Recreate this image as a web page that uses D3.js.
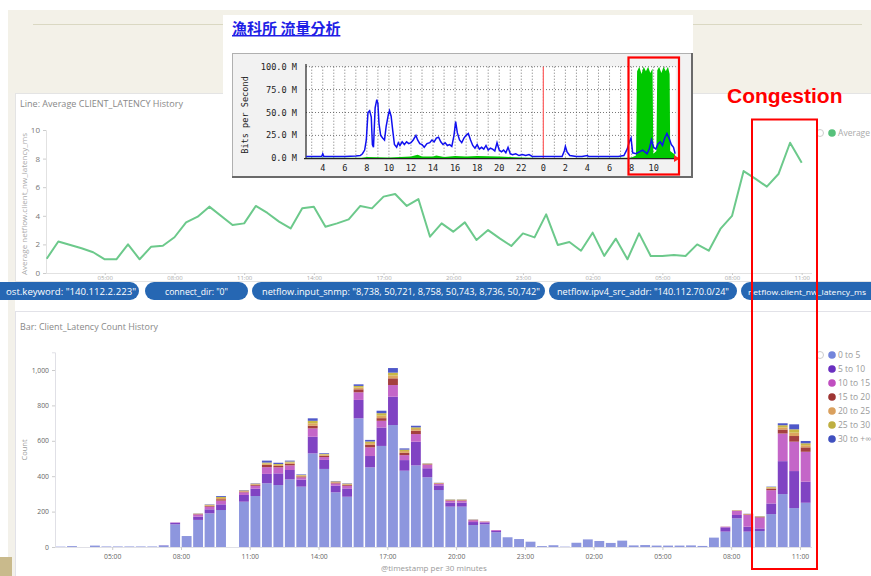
<!DOCTYPE html>
<html><head><meta charset="utf-8">
<script src="https://cdn.jsdelivr.net/npm/d3@7"></script>
<style>body{margin:0;background:#fff;}svg{display:block}</style>
</head><body>
<svg id="c" width="871" height="576"></svg>
<script>
// ---------------- DATA ----------------
const slotLabels = ["02:30","03:00","03:30","04:00","04:30","05:00","05:30","06:00","06:30","07:00","07:30",
 "08:00","08:30","09:00","09:30","10:00","10:30","11:00","11:30","12:00","12:30",
 "13:00","13:30","14:00","14:30","15:00","15:30","16:00","16:30","17:00","17:30",
 "18:00","18:30","19:00","19:30","20:00","20:30","21:00","21:30","22:00","22:30",
 "23:00","23:30","00:00","00:30","01:00","01:30","02:00","02:30","03:00","03:30",
 "04:00","04:30","05:00","05:30","06:00","06:30","07:00","07:30","08:00","08:30",
 "09:00","09:30","10:00","10:30","11:00"];

const latencyAvg = [1.0,2.2,null,1.73,1.45,0.96,0.96,2.0,0.96,1.84,1.91,
 2.5,3.54,3.94,4.64,null,3.36,3.47,4.69,4.2,3.59,
 3.12,4.52,4.64,3.24,3.47,3.75,4.69,4.52,5.34,5.52,
 4.69,5.17,2.54,3.47,2.89,3.54,2.31,3.0,2.42,1.89,
 2.77,2.49,4.1,1.96,2.17,1.56,2.82,1.2,2.4,0.96,
 2.77,1.19,1.19,1.26,1.19,2.0,1.56,3.08,3.99,7.13,
 6.6,6.04,6.92,9.11,7.71];

const bucketNames = ["0 to 5","5 to 10","10 to 15","15 to 20","20 to 25","25 to 30","30 to +∞"];
const cnt0to5 = [2,5,0,8,3,3,3,3,3,9,128, 62,153,190,209,0,256,288,360,350,382, 341,529,441,309,284,727,450,571,689,431, 461,394,322,228,228,124,128,83,55,45, 30,5,10,2,24,43,34,23,36,9, 11,8,8,8,9,6,53,87,162,87, 90,186,299,220,250];
const cnt5to10 = [0,0,0,0,0,0,0,0,0,1,9, 0,19,23,32,0,38,42,53,66,53, 40,94,51,38,47,104,64,104,160,60, 134,51,26,23,23,17,11,8,0,0, 0,0,0,0,0,0,0,0,0,0, 0,0,0,0,0,0,0,24,19,28, 15,60,186,209,119];
const cnt10to15 = [0,0,0,0,0,0,0,0,0,0,2, 0,12,15,21,0,15,16,38,34,26, 12,47,16,12,15,43,49,38,66,28, 43,20,8,10,10,10,4,5,0,0, 0,0,0,0,0,0,0,0,0,0, 0,0,0,0,0,0,0,3,25,66, 62,75,156,166,169];
const cnt15to20 = [0,0,0,0,0,0,0,0,0,0,0, 0,2,4,8,0,4,5,13,8,9, 6,15,8,5,5,17,14,15,38,13, 19,3,3,3,3,2,1,0,0,0, 0,0,0,0,0,0,0,0,0,0, 0,0,0,0,0,0,0,1,0,3, 3,9,23,32,25];
const cnt20to25 = [0,0,0,0,0,0,0,0,0,0,0, 0,2,4,7,0,4,4,7,6,7, 5,14,6,4,4,10,10,14,16,10, 10,2,2,2,2,1,1,0,0,0, 0,0,0,0,0,0,0,0,0,0, 0,0,0,0,0,0,0,0,1,2, 2,5,12,19,12];
const cnt25to30 = [0,0,0,0,0,0,0,0,0,0,0, 0,1,3,6,0,3,3,6,5,6, 3,14,4,3,3,9,9,14,16,8, 9,2,1,2,2,1,0,0,0,0, 0,0,0,0,0,0,0,0,0,0, 0,0,0,0,0,0,0,0,2,1, 2,4,12,19,11];
const cnt30plus = [0,0,0,0,0,0,0,0,0,0,0, 0,1,2,5,0,2,2,11,7,5, 3,14,4,2,2,9,9,14,26,7, 9,1,1,1,1,1,0,0,0,0, 0,0,0,0,0,0,0,0,0,0, 0,0,0,0,0,0,0,0,0,1, 1,2,11,28,13];

const timeTickLabels = ["05:00","08:00","11:00","14:00","17:00","20:00","23:00","02:00","05:00","08:00","11:00"];
const lineYTicks = [0,2,4,6,8,10];
const barYTicks = [0,200,400,600,800,1000];
const lineLegendLabel = "Average";

const filterPills = ['ost.keyword: "140.112.2.223"','connect_dir: "0"',
 'netflow.input_snmp: "8,738, 50,721, 8,758, 50,743, 8,736, 50,742"',
 'netflow.ipv4_src_addr: "140.112.70.0/24"','netflow.client_nw_latency_ms'];

const mrtgTitle = "漁科所 流量分析";
const mrtgOutHours = [2.5,3,3.5,3.9,4.0,4.1,5,6,7,7.4,7.6,7.8,7.95,8.1,8.25,8.4,8.5,8.6,8.75,8.9,9.0,9.1,9.25,9.45,9.6,9.75,9.95,10.05,10.2,10.35,10.5,10.7,10.85,11.0,11.2,11.4,11.6,11.8,12.0,12.2,12.45,12.6,12.8,13.0,13.2,13.45,13.7,13.9,14.1,14.3,14.5,14.7,14.9,15.1,15.3,15.5,15.7,15.9,16.05,16.2,16.4,16.6,16.8,17.0,17.2,17.4,17.6,17.8,18.0,18.2,18.4,18.6,18.8,19.0,19.2,19.4,19.6,19.8,20.0,20.2,20.4,20.6,20.8,21.0,21.2,21.5,21.8,22.1,22.4,22.7,23.0,23.5,24,25,25.7,25.9,26.0,26.15,26.4,27,27.5,28.0,28.1,29,30,30.8,31.3,31.6,31.8,31.95,32.1,32.4,32.7,33.0,33.2,33.4,33.6,33.8,34.0,34.2,34.4,34.6,34.8,35.0,35.2,35.4,35.6,35.8,35.95];
const mrtgOutMbps = [2,2,2,2,5,2,2,2,2.5,3,5,9,20,50,52,45,15,12,55,64,60,38,25,22,20,35,48,52,46,30,15,12,17,14,18,15,18,16,17,20,25,20,16,15,12,16,17,20,18,22,23,18,15,17,14,15,13,25,40,28,20,17,22,25,27,20,14,11,15,10,12,10,14,9,11,10,8,17,9,7,9,6,12,5,4,5,3,4,3,4,2,2,2,2,2,8,13,7,3,2,2,3,2,2,2,2,3,10,18,22,6,5,7,9,7,5,10,20,12,10,16,18,14,22,27,22,15,12,5];
const mrtgInHours = [2.5,7.5,8.0,10,12,12.6,13,14,14.3,15,16,17,18,20,21,22,23,24,31.5,32.0,32.4,32.5,32.7,32.9,33.1,33.3,33.5,33.7,33.9,33.97,34.25,34.33,34.5,34.7,34.9,35.1,35.3,35.45,35.5,35.95];
const mrtgInMbps = [0.5,0.5,1.5,1,2,4,2,2,3,1.5,2.5,2,2.5,2,1.5,1,0.5,0.3,0.5,1,3,95,100,92,100,95,100,93,98,5,8,96,100,93,100,95,100,92,8,4];
const mrtgXTicks = [4,6,8,10,12,14,16,18,20,22,24,26,28,30,32,34];
const mrtgYTicks = [0,25,50,75,100];

// ---------------- HELPERS ----------------
function parseSeq(labels){
  let day = 1, prev = -1;
  return labels.map(s => { const [h,m] = s.split(":").map(Number); const mins = h*60+m;
    if (mins < prev) day++; prev = mins; return new Date(2018,4,day,h,m); });
}
const slotDates = parseSeq(slotLabels);
const tickDates = parseSeq(timeTickLabels);
const KF = "'Open Sans', 'DejaVu Sans', sans-serif";
const svg = d3.select("#c");

// ---------------- BACKGROUND ----------------
svg.append("rect").attr("width",871).attr("height",576).attr("fill","#fff");
svg.append("rect").attr("x",8).attr("y",10).attr("width",863).attr("height",83).attr("fill","#f3f1e8");
svg.append("rect").attr("x",8).attr("y",93).attr("width",7).attr("height",483).attr("fill","#f3f1ea");
svg.append("line").attr("x1",33).attr("x2",862).attr("y1",24.5).attr("y2",24.5).attr("stroke","#dad8c2").attr("stroke-width",1.2);
svg.append("rect").attr("x",15.5).attr("y",93.5).attr("width",860).attr("height",188).attr("fill","#fff").attr("stroke","#e4e4e4");
svg.append("rect").attr("x",15.5).attr("y",311.5).attr("width",860).attr("height",270).attr("fill","#fff").attr("stroke","#e2e2e8");
svg.append("rect").attr("x",0).attr("y",557).attr("width",12).attr("height",19).attr("fill","#c9ba8c");

// ---------------- LINE CHART ----------------
const lg = svg.append("g");
lg.append("text").attr("x",20).attr("y",107).text("Line: Average CLIENT_LATENCY History")
  .attr("font-family",KF).attr("font-size",9.5).attr("fill","#888").attr("textLength",163).attr("lengthAdjust","spacingAndGlyphs");
const xl = d3.scaleTime().domain([slotDates[0], slotDates[slotDates.length-1]]).range([46.7, 801.7]);
const yl = d3.scaleLinear().domain([0,10]).range([273,130]);
const yAxL = lg.append("g").attr("transform","translate(46,0)")
  .call(d3.axisLeft(yl).tickValues(lineYTicks).tickSize(3).tickPadding(3));
yAxL.select(".domain").attr("stroke","#e2e2e2");
yAxL.selectAll(".tick line").attr("stroke","#ccc");
yAxL.selectAll("text").attr("font-family",KF).attr("font-size",8).attr("fill","#777");
lg.append("text").attr("transform","translate(27,204) rotate(-90)").attr("text-anchor","middle")
  .text("Average netflow.client_nw_latency_ms").attr("font-family",KF).attr("font-size",7.5).attr("fill","#aaa")
  .attr("textLength",142).attr("lengthAdjust","spacingAndGlyphs");
lg.append("line").attr("x1",46).attr("x2",812).attr("y1",273.5).attr("y2",273.5).attr("stroke","#e2e2e2");
const xAxL = lg.append("g").attr("transform","translate(0,273)")
  .call(d3.axisBottom(xl).tickValues(tickDates).tickFormat(d3.timeFormat("%H:%M")).tickSize(2));
xAxL.select(".domain").remove();
xAxL.selectAll(".tick line").attr("stroke","#ccc");
xAxL.selectAll("text").attr("y",2.6).attr("dy","0.71em").attr("font-family",KF).attr("font-size",6).attr("fill","#aaa");
const linePts = slotDates.map((d,i)=>({d, v: latencyAvg[i]})).filter(p => p.v !== null);
lg.append("path").datum(linePts)
  .attr("d", d3.line().x(p=>xl(p.d)).y(p=>yl(p.v)))
  .attr("fill","none").attr("stroke","#6cc98b").attr("stroke-width",2).attr("stroke-linejoin","round");
// legend
lg.append("circle").attr("cx",820).attr("cy",133).attr("r",3.5).attr("fill","#fff").attr("stroke","#ccc");
lg.append("circle").attr("cx",832).attr("cy",133).attr("r",3.8).attr("fill","#57c17b");
lg.append("text").attr("x",838).attr("y",136).text(lineLegendLabel)
  .attr("font-family",KF).attr("font-size",8.5).attr("fill","#aaa").attr("textLength",32).attr("lengthAdjust","spacingAndGlyphs");

// ---------------- FILTER PILLS ----------------
const pillBoxes = [[-12,139,6,136,9.5],[145,248,165,228,9.5],[252,545,262,540,9.5],[549,737,557,729,9.5],[741,890,748,866,7.5]];
const pg = svg.append("g");
filterPills.forEach((t,i)=>{
  const b = pillBoxes[i];
  pg.append("rect").attr("x",b[0]).attr("y",282).attr("width",b[1]-b[0]).attr("height",18).attr("rx",9)
    .attr("fill","#2667b3");
  pg.append("text").attr("x",b[2]).attr("y",294.5).text(t)
    .attr("font-family",KF).attr("font-size",b[4]).attr("fill","#fff")
    .attr("textLength", b[3]-b[2]).attr("lengthAdjust","spacingAndGlyphs");
});

// ---------------- BAR CHART ----------------
const bg = svg.append("g");
bg.append("text").attr("x",20).attr("y",330).text("Bar: Client_Latency Count History")
  .attr("font-family",KF).attr("font-size",9.5).attr("fill","#888").attr("textLength",138).attr("lengthAdjust","spacingAndGlyphs");
const xb = d3.scaleTime().domain([slotDates[11], slotDates[slotDates.length-1]]).range([181, 800]);
const yb = d3.scaleLinear().domain([0,1100]).range([547, 352.3]);
const step = xb(slotDates[12]) - xb(slotDates[11]);
const series = [cnt0to5,cnt5to10,cnt10to15,cnt15to20,cnt20to25,cnt25to30,cnt30plus];
const barColors = ["#8d96de","#8043c3","#c466c8","#a4403f","#dca45f","#c8b845","#4f58c9"];
const legendColors = ["#7385db","#6a2fc0","#c04ec0","#9e3533","#daa05d","#bfaf40","#4050bf"];
const rows = slotDates.map((d,i)=>{ const r = {date:d}; bucketNames.forEach((n,j)=> r[n] = series[j][i]); return r; });
const stacked = d3.stack().keys(bucketNames)(rows);
bg.selectAll("g.layer").data(stacked).join("g").attr("class","layer")
  .attr("fill",(s,i)=>barColors[i])
  .selectAll("rect").data(s=>s.filter(d=>d[1]>d[0])).join("rect")
  .attr("x", d=>xb(d.data.date)+0.7).attr("width", step-1.6)
  .attr("y", d=>yb(d[1])).attr("height", d=>yb(d[0])-yb(d[1]));
const yAxB = bg.append("g").attr("transform","translate(55,0)")
  .call(d3.axisLeft(yb).tickValues(barYTicks).tickFormat(d3.format(",")).tickSize(3).tickPadding(3));
yAxB.select(".domain").attr("stroke","#e0e0e6");
yAxB.selectAll(".tick line").attr("stroke","#ccc");
yAxB.selectAll("text").attr("font-family",KF).attr("font-size",6.8).attr("fill","#666");
bg.append("text").attr("transform","translate(27,450) rotate(-90)").attr("text-anchor","middle")
  .text("Count").attr("font-family",KF).attr("font-size",7.5).attr("fill","#999");
bg.append("line").attr("x1",55).attr("x2",812).attr("y1",547.5).attr("y2",547.5).attr("stroke","#e0e0e6");
const xAxB = bg.append("g").attr("transform","translate(0,547)")
  .call(d3.axisBottom(xb).tickValues(tickDates).tickFormat(d3.timeFormat("%H:%M")).tickSize(3).tickPadding(4));
xAxB.select(".domain").remove();
xAxB.selectAll(".tick line").attr("stroke","#ccc");
xAxB.selectAll("text").attr("font-family",KF).attr("font-size",6.8).attr("fill","#666");
bg.append("text").attr("x",434).attr("y",571).attr("text-anchor","middle").text("@timestamp per 30 minutes")
  .attr("font-family",KF).attr("font-size",8).attr("fill","#999");
bg.append("circle").attr("cx",820).attr("cy",355).attr("r",3.5).attr("fill","#fff").attr("stroke","#ccc");
bucketNames.forEach((n,i)=>{
  const y = 355 + i*14;
  bg.append("circle").attr("cx",832).attr("cy",y).attr("r",3.8).attr("fill",legendColors[i]);
  bg.append("text").attr("x",838).attr("y",y+3).text(n).attr("font-family",KF).attr("font-size",8.5).attr("fill","#999");
});

// ---------------- MRTG INSET ----------------
const mg = svg.append("g");
mg.append("rect").attr("x",223).attr("y",15).attr("width",470).attr("height",164).attr("fill","#fff");
mg.append("text").attr("x",232).attr("y",34).text(mrtgTitle)
  .attr("font-family","'Noto Sans CJK TC','Noto Sans CJK SC',sans-serif").attr("font-weight",700)
  .attr("font-size",15).attr("fill","#1f1fe6").attr("text-decoration","underline");
mg.append("rect").attr("x",232.5).attr("y",53.5).attr("width",459).attr("height",123).attr("fill","#f2f2f2").attr("stroke","#b0b0b0");
mg.append("line").attr("x1",692).attr("x2",692).attr("y1",53).attr("y2",178).attr("stroke","#6a6a6a").attr("stroke-width",2);
mg.append("line").attr("x1",232).attr("x2",693).attr("y1",177).attr("y2",177).attr("stroke","#6a6a6a").attr("stroke-width",2);
const xm = d3.scaleLinear().domain([2.5,36]).range([306.2,675.7]);
const ym = d3.scaleLinear().domain([0,100]).range([158.3,66.7]);
mg.append("rect").attr("x",306).attr("y",66.7).attr("width",369.7).attr("height",91.6).attr("fill","#fff");
mg.append("g").selectAll("line").data(d3.range(3,36)).join("line")
  .attr("x1",h=>xm(h)).attr("x2",h=>xm(h)).attr("y1",66.7).attr("y2",158.3)
  .attr("stroke","#555").attr("stroke-width",0.8).attr("stroke-dasharray","1,2");
mg.append("g").selectAll("line").data(mrtgYTicks.slice(1)).join("line")
  .attr("x1",306).attr("x2",675.7).attr("y1",v=>ym(v)).attr("y2",v=>ym(v))
  .attr("stroke","#555").attr("stroke-width",0.8).attr("stroke-dasharray","1,2");
const mclip = mg.append("clipPath").attr("id","mclip");
mclip.append("rect").attr("x",306).attr("y",60).attr("width",370).attr("height",99);
const inPts = mrtgInHours.map((h,i)=>[h, mrtgInMbps[i]]);
mg.append("path").datum(inPts).attr("clip-path","url(#mclip)")
  .attr("d", d3.area().x(p=>xm(p[0])).y0(ym(0)).y1(p=>ym(p[1])))
  .attr("fill","#00c800");
mg.append("line").attr("x1",xm(24)).attr("x2",xm(24)).attr("y1",66.7).attr("y2",158.3).attr("stroke","#ff6060").attr("stroke-width",1.2);
mg.append("line").attr("x1",306).attr("x2",306).attr("y1",64).attr("y2",159).attr("stroke","#222").attr("stroke-width",1.2);
mg.append("line").attr("x1",304).attr("x2",676).attr("y1",158.6).attr("y2",158.6).attr("stroke","#222").attr("stroke-width",1.2);
mg.append("path").attr("d","M674,155.3L680,158.6L674,161.9Z").attr("fill","#ff2020");
const outPts = mrtgOutHours.map((h,i)=>[h, mrtgOutMbps[i]]);
mg.append("path").datum(outPts).attr("clip-path","url(#mclip)")
  .attr("d", d3.line().x(p=>xm(p[0])).y(p=>ym(p[1])))
  .attr("fill","none").attr("stroke","#1010f0").attr("stroke-width",1.5);
const MF = "'DejaVu Sans Mono','Liberation Mono',monospace";
mg.append("g").selectAll("text").data(mrtgYTicks).join("text")
  .attr("x",297).attr("y",v=>ym(v)+3).attr("text-anchor","end")
  .text(v=>d3.format(".1f")(v)+" M").attr("font-family",MF).attr("font-size",8.6).attr("fill","#222");
mg.append("g").selectAll("text").data(mrtgXTicks).join("text")
  .attr("x",h=>xm(h)).attr("y",171).attr("text-anchor","middle")
  .text(h=>h%24).attr("font-family",MF).attr("font-size",8.6).attr("fill","#222");
mg.append("text").attr("transform","translate(248,115) rotate(-90)").attr("text-anchor","middle")
  .text("Bits per Second").attr("font-family",MF).attr("font-size",8.6).attr("fill","#222");

// ---------------- ANNOTATIONS ----------------
svg.append("rect").attr("x",628.5).attr("y",57.5).attr("width",50.5).attr("height",117).attr("fill","none")
  .attr("stroke","#ff0000").attr("stroke-width",2.2);
svg.append("rect").attr("x",752).attr("y",119.5).attr("width",65).attr("height",449.5).attr("fill","none")
  .attr("stroke","#ff0000").attr("stroke-width",2);
svg.append("text").attr("x",727).attr("y",103).text("Congestion")
  .attr("font-family","'Liberation Sans',Arial,sans-serif").attr("font-weight",700).attr("font-size",21)
  .attr("fill","#ff0000");
</script>
</body></html>
